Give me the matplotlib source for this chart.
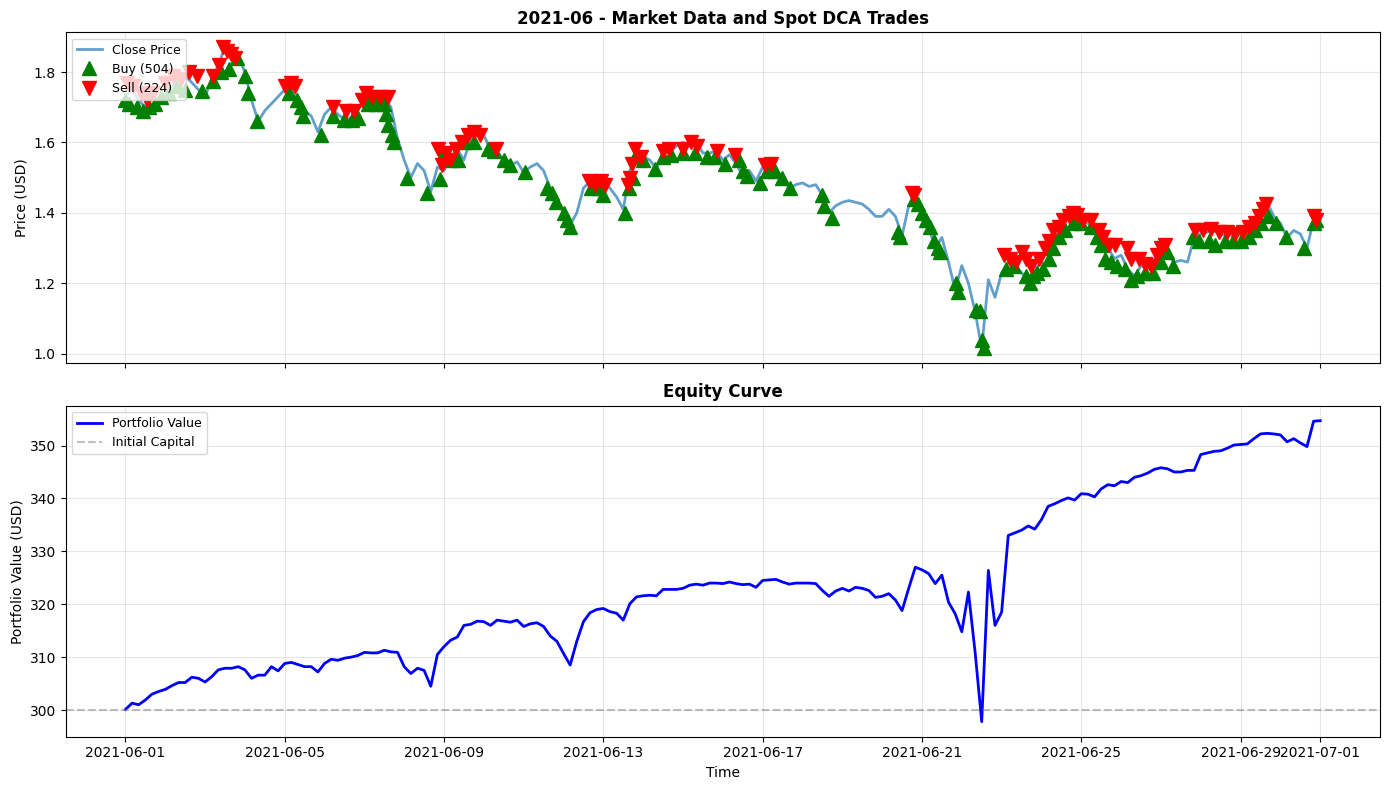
import matplotlib
matplotlib.use('Agg')
import matplotlib.pyplot as plt
import pandas as pd

# close price, sampled every 4 hours from 2021-06-01 00:00
close_price = [
    1.73, 1.75, 1.72, 1.70, 1.69, 1.71,
    1.74, 1.76, 1.78, 1.79, 1.77, 1.75,
    1.73, 1.78, 1.82, 1.87, 1.85, 1.845,
    1.80, 1.72, 1.66, 1.69, 1.71, 1.73,
    1.75, 1.76, 1.72, 1.69, 1.675, 1.63,
    1.68, 1.70, 1.68, 1.665, 1.67, 1.69,
    1.72, 1.74, 1.73, 1.73, 1.70, 1.61,
    1.55, 1.50, 1.54, 1.52, 1.46, 1.53,
    1.52, 1.56, 1.58, 1.55, 1.61, 1.63,
    1.62, 1.58, 1.575, 1.55, 1.535, 1.545,
    1.515, 1.53, 1.54, 1.52, 1.47, 1.44,
    1.40, 1.365, 1.40, 1.47, 1.49, 1.48,
    1.49, 1.47, 1.445, 1.41, 1.52, 1.575,
    1.56, 1.55, 1.525, 1.575, 1.57, 1.59,
    1.60, 1.59, 1.60, 1.57, 1.57, 1.575,
    1.55, 1.565, 1.54, 1.505, 1.52, 1.49,
    1.53, 1.54, 1.52, 1.50, 1.47, 1.48,
    1.485, 1.475, 1.48, 1.45, 1.40, 1.42,
    1.43, 1.435, 1.43, 1.425, 1.41, 1.39,
    1.39, 1.41, 1.39, 1.335, 1.42, 1.45,
    1.40, 1.36, 1.30, 1.33, 1.26, 1.18,
    1.25, 1.20, 1.12, 1.015, 1.21, 1.16,
    1.23, 1.26, 1.25, 1.23, 1.21, 1.24,
    1.26, 1.30, 1.34, 1.36, 1.385, 1.395,
    1.385, 1.37, 1.36, 1.33, 1.30, 1.27,
    1.28, 1.24, 1.22, 1.25, 1.24, 1.27,
    1.30, 1.28, 1.26, 1.265, 1.26, 1.33,
    1.34, 1.345, 1.35, 1.335, 1.34, 1.33,
    1.34, 1.35, 1.37, 1.40, 1.43, 1.39,
    1.37, 1.33, 1.35, 1.34, 1.30, 1.38,
    1.38,
]

# portfolio value, same 4 hour steps
portfolio_value = [
    300.1, 301.3, 301.0, 301.9, 303.0, 303.5,
    303.9, 304.6, 305.2, 305.2, 306.2, 306.0,
    305.3, 306.3, 307.6, 307.9, 307.9, 308.2,
    307.6, 306.0, 306.6, 306.6, 308.2, 307.4,
    308.8, 309.0, 308.6, 308.2, 308.2, 307.2,
    308.8, 309.6, 309.4, 309.8, 310.0, 310.3,
    310.9, 310.8, 310.8, 311.3, 311.0, 310.9,
    308.2, 306.9, 307.9, 307.5, 304.5, 310.5,
    312.0, 313.2, 313.8, 316.0, 316.2, 316.8,
    316.7, 316.0, 317.0, 316.8, 316.6, 317.0,
    315.8, 316.3, 316.5, 315.8, 314.0, 313.0,
    310.7, 308.5, 313.0, 316.7, 318.4, 319.0,
    319.2, 318.6, 318.3, 317.0, 320.1, 321.4,
    321.6, 321.7, 321.6, 322.8, 322.8, 322.8,
    323.0, 323.6, 323.8, 323.6, 324.0, 324.0,
    323.9, 324.2, 323.9, 323.7, 323.8, 323.2,
    324.5, 324.6, 324.7, 324.2, 323.8, 324.0,
    324.0, 324.0, 323.9, 322.6, 321.5, 322.5,
    323.0, 322.5, 323.2, 323.0, 322.6, 321.3,
    321.5, 322.0, 320.8, 318.8, 323.0, 327.0,
    326.5, 325.8, 323.9, 325.5, 320.4, 318.2,
    314.8, 322.3, 311.0, 297.8, 326.4, 316.0,
    318.5, 333.0, 333.5, 334.0, 334.8, 334.2,
    336.0, 338.5, 339.0, 339.6, 340.1, 339.7,
    340.9, 340.8, 340.3, 341.8, 342.6, 342.4,
    343.2, 343.0, 344.0, 344.3, 344.8, 345.5,
    345.8, 345.6, 345.0, 345.0, 345.3, 345.3,
    348.3, 348.6, 348.9, 349.0, 349.5, 350.1,
    350.2, 350.3, 351.3, 352.2, 352.3, 352.2,
    352.0, 350.7, 351.3, 350.5, 349.8, 354.6,
    354.7,
]

# trades: day offset from 2021-06-01 and fill price
buy_days = [
    0.0, 0.1, 0.3, 0.45, 0.6, 0.75, 0.9, 1.1, 1.3, 1.5, 1.93, 2.2, 2.4, 2.6, 2.8,
    3.0, 3.07, 3.3, 4.1, 4.3, 4.4, 4.45, 4.9, 5.2, 5.5, 5.7, 5.85, 6.1, 6.3, 6.5,
    6.55, 6.6, 6.7, 6.75, 7.08, 7.58, 7.9, 8.0, 8.2, 8.35, 8.5, 8.75, 9.1, 9.25,
    9.5, 9.65, 10.04, 10.58, 10.7, 10.8, 11.0, 11.1, 11.17, 11.7, 11.9, 12.0,
    12.54, 12.65, 12.75, 12.8, 13.0, 13.29, 13.5, 13.7, 14.0, 14.3, 14.6, 14.8,
    15.05, 15.4, 15.5, 15.6, 15.93, 16.1, 16.3, 16.48, 16.69, 17.5, 17.55, 17.74,
    19.4, 19.45, 19.8, 19.9, 20.0, 20.1, 20.2, 20.3, 20.4, 20.45, 20.85, 20.9,
    21.35, 21.45, 21.5, 21.55, 22.1, 22.3, 22.6, 22.7, 22.8, 22.9, 23.05, 23.2,
    23.3, 23.45, 23.6, 23.8, 24.0, 24.25, 24.4, 24.5, 24.6, 24.75, 24.9, 25.1,
    25.25, 25.4, 25.6, 25.8, 26.0, 26.15, 26.3, 26.8, 26.95, 27.2, 27.35, 27.6,
    27.8, 28.0, 28.2, 28.35, 28.5, 28.7, 28.9, 29.15, 29.6, 29.85, 29.9,
]
buy_prices = [
    1.72, 1.71, 1.70, 1.69, 1.70, 1.71, 1.73, 1.74, 1.76, 1.75, 1.745, 1.775, 1.80, 1.81, 1.84,
    1.79, 1.74, 1.66, 1.74, 1.72, 1.70, 1.675, 1.62, 1.675, 1.665, 1.665, 1.67, 1.71, 1.71, 1.71,
    1.68, 1.65, 1.62, 1.60, 1.50, 1.455, 1.495, 1.57, 1.55, 1.55, 1.60, 1.60, 1.58, 1.575,
    1.55, 1.535, 1.515, 1.47, 1.455, 1.43, 1.40, 1.38, 1.36, 1.47, 1.47, 1.45,
    1.40, 1.47, 1.50, 1.56, 1.55, 1.525, 1.56, 1.565, 1.57, 1.57, 1.56, 1.56,
    1.54, 1.55, 1.52, 1.505, 1.485, 1.52, 1.52, 1.50, 1.47, 1.45, 1.42, 1.385,
    1.345, 1.33, 1.44, 1.425, 1.40, 1.38, 1.36, 1.32, 1.30, 1.29, 1.20, 1.175,
    1.125, 1.12, 1.04, 1.015, 1.24, 1.25, 1.22, 1.20, 1.22, 1.23, 1.24, 1.27,
    1.30, 1.33, 1.35, 1.37, 1.37, 1.36, 1.33, 1.31, 1.27, 1.26, 1.25, 1.24,
    1.21, 1.22, 1.23, 1.23, 1.26, 1.29, 1.25, 1.33, 1.32, 1.32, 1.31, 1.32,
    1.32, 1.32, 1.33, 1.35, 1.37, 1.39, 1.37, 1.33, 1.30, 1.37, 1.38,
]
sell_days = [
    0.05, 0.2, 0.4, 0.55, 0.7, 1.0, 1.2, 1.4, 1.6, 1.8, 2.2, 2.35, 2.45, 2.55, 2.65,
    2.75, 4.0, 4.15, 4.25, 5.2, 5.55, 5.75, 5.95, 6.05, 6.2, 6.4, 6.6, 7.85, 7.95,
    8.05, 8.15, 8.3, 8.45, 8.6, 8.75, 8.9, 9.3, 11.65, 11.8, 11.95, 12.05, 12.63,
    12.68, 12.73, 12.8, 12.95, 13.5, 13.65, 14.0, 14.2, 14.35, 14.85, 15.3, 16.05,
    16.2, 19.75, 19.8, 22.05, 22.2, 22.35, 22.5, 22.6, 22.75, 22.95, 23.1, 23.2,
    23.3, 23.45, 23.55, 23.7, 23.8, 23.9, 24.05, 24.25, 24.45, 24.55, 24.7, 24.85,
    25.15, 25.25, 25.45, 25.6, 25.75, 25.9, 26.0, 26.1, 26.85, 27.05, 27.25, 27.45,
    27.65, 27.85, 28.05, 28.2, 28.35, 28.45, 28.55, 28.65, 29.85, 29.9,
]
sell_prices = [
    1.77, 1.76, 1.74, 1.72, 1.74, 1.77, 1.79, 1.78, 1.80, 1.79, 1.79, 1.82, 1.87, 1.86, 1.85,
    1.84, 1.76, 1.77, 1.76, 1.70, 1.69, 1.69, 1.72, 1.74, 1.73, 1.73, 1.73, 1.58, 1.535,
    1.57, 1.55, 1.58, 1.60, 1.62, 1.63, 1.62, 1.58, 1.49, 1.48, 1.49, 1.48, 1.48,
    1.50, 1.54, 1.58, 1.56, 1.575, 1.58, 1.58, 1.60, 1.59, 1.575, 1.565, 1.535,
    1.54, 1.455, 1.45, 1.28, 1.27, 1.26, 1.29, 1.27, 1.25, 1.27, 1.30, 1.32,
    1.35, 1.36, 1.38, 1.39, 1.40, 1.395, 1.38, 1.38, 1.35, 1.33, 1.31, 1.31,
    1.30, 1.27, 1.27, 1.255, 1.25, 1.28, 1.30, 1.31, 1.35, 1.35, 1.355, 1.345,
    1.345, 1.34, 1.345, 1.36, 1.37, 1.39, 1.41, 1.425, 1.39, 1.38,
]

buy_count = 504
sell_count = 224
initial_capital = 300
month = '2021-06'


def make_plot():
    start = pd.Timestamp(month + '-01')
    times = pd.date_range(start, periods=len(close_price), freq='4h')
    buy_times = start + pd.to_timedelta(buy_days, unit='D')
    sell_times = start + pd.to_timedelta(sell_days, unit='D')

    fig, (ax1, ax2) = plt.subplots(2, 1, figsize=(14, 8), dpi=100, sharex=True)

    ax1.plot(times, close_price, label='Close Price', linewidth=2, alpha=0.7)
    ax1.plot(buy_times, buy_prices, '^', color='green', markersize=10,
             linestyle='None', label=f'Buy ({buy_count})')
    ax1.plot(sell_times, sell_prices, 'v', color='red', markersize=10,
             linestyle='None', label=f'Sell ({sell_count})')
    ax1.set_ylabel('Price (USD)')
    ax1.set_title(f'{month} - Market Data and Spot DCA Trades', fontweight='bold')
    ax1.legend(loc='upper left', fontsize=9)
    ax1.grid(True, alpha=0.3)

    ax2.plot(times, portfolio_value, color='blue', linewidth=2, label='Portfolio Value')
    ax2.axhline(initial_capital, color='gray', linestyle='--', alpha=0.5, label='Initial Capital')
    ax2.set_xlabel('Time')
    ax2.set_ylabel('Portfolio Value (USD)')
    ax2.set_title('Equity Curve', fontweight='bold')
    ax2.legend(loc='upper left', fontsize=9)
    ax2.grid(True, alpha=0.3)

    fig.tight_layout()
    fig.savefig('out.png', dpi=100, bbox_inches='tight')


if __name__ == '__main__':
    make_plot()
